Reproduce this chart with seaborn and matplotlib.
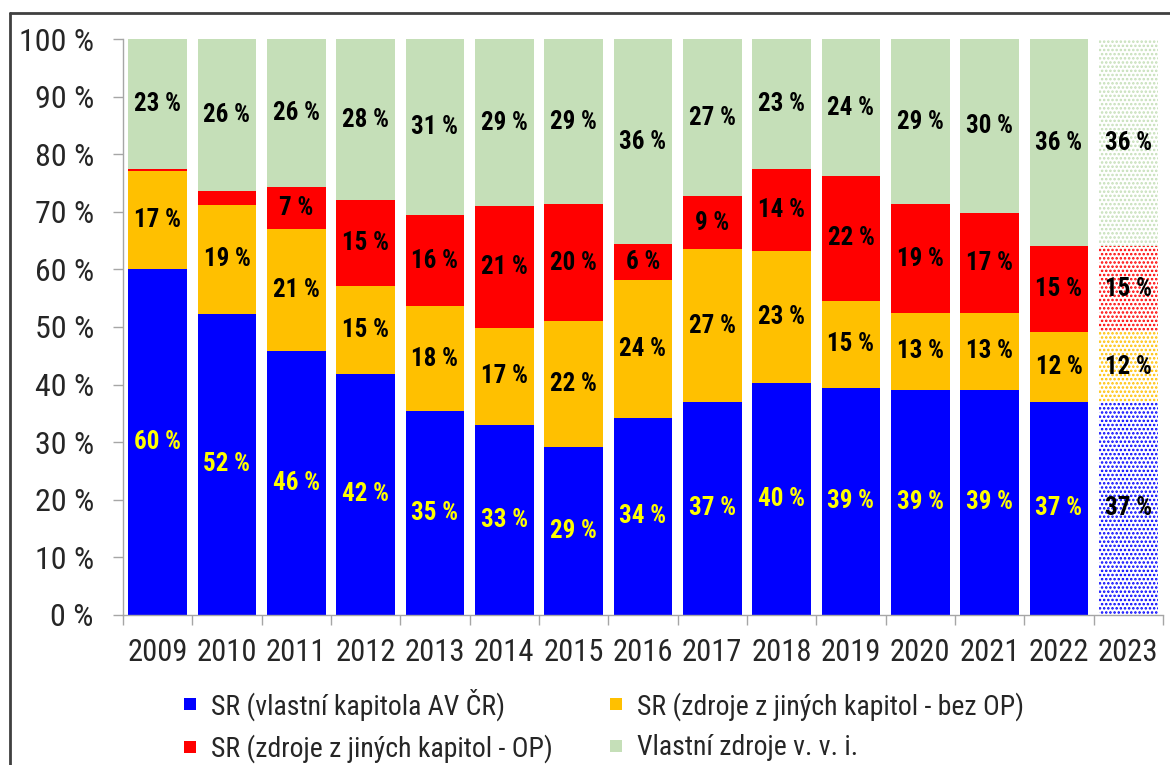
import pandas as pd
import seaborn as sns
import matplotlib.pyplot as plt
from matplotlib.lines import Line2D

# data (podíly v %)
years = ['2009', '2010', '2011', '2012', '2013', '2014', '2015', '2016',
         '2017', '2018', '2019', '2020', '2021', '2022', '2023']
sr_vlastni = [60.0, 52.3, 45.8, 41.9, 35.4, 33.0, 29.2, 34.1, 36.9, 40.3, 39.4, 39.1, 39.1, 37.0, 37.0]
sr_bez_op = [17.1, 18.9, 21.3, 15.3, 18.2, 16.9, 21.8, 24.0, 26.6, 22.9, 15.2, 13.3, 13.3, 12.1, 12.1]
sr_op = [0.3, 2.5, 7.2, 14.8, 15.8, 21.1, 20.4, 6.3, 9.3, 14.2, 21.6, 19.0, 17.4, 15.0, 15.0]
vlastni_zdroje = [22.6, 26.3, 25.7, 28.0, 30.6, 29.0, 28.6, 35.6, 27.2, 22.6, 23.8, 28.6, 30.2, 35.9, 35.9]

series = [
    ('SR (vlastní kapitola AV ČR)', sr_vlastni, '#0000FF'),
    ('SR (zdroje z jiných kapitol - bez OP)', sr_bez_op, '#FFC000'),
    ('SR (zdroje z jiných kapitol - OP)', sr_op, '#FF0000'),
    ('Vlastní zdroje v. v. i.', vlastni_zdroje, '#C5DFB8'),
]

sns.set_style('white')
plt.rcParams['font.family'] = ['Roboto Condensed', 'Liberation Sans', 'DejaVu Sans']
plt.rcParams['hatch.linewidth'] = 1.2

fig = plt.figure(figsize=(11.7, 7.65), dpi=100)
ax = fig.add_axes([0.1051, 0.1967, 0.8889, 0.7517])

bottom = [0.0] * len(years)
for name, vals, col in series:
    df = pd.DataFrame({'rok': years, 'podil': vals})
    sns.barplot(data=df, x='rok', y='podil', order=years, color=col, width=0.845,
                bottom=bottom, linewidth=0, saturation=1, ax=ax)
    cont = ax.containers[-1]
    # 2023 = odhad -> tečkovaná výplň
    p = cont.patches[-1]
    p.set_facecolor('white')
    p.set_edgecolor(col)
    p.set_hatch('....')
    p.set_linewidth(0)
    labels = [f'{v:.0f} %' if v >= 3 else '' for v in vals]
    txts = ax.bar_label(cont, labels=labels, label_type='center', fontsize=18,
                        fontweight='bold', color='#FFFF00' if col == '#0000FF' else 'black')
    txts[-1].set_color('black')
    bottom = [b + v for b, v in zip(bottom, vals)]

ax.set_ylim(0, 100)
ax.set_xlim(-0.5, len(years) - 0.5)
ax.set_yticks(range(0, 101, 10))
ax.set_yticklabels([f'{t} %' for t in range(0, 101, 10)])
ax.set_xticks(range(len(years)))
ax.set_xticklabels(years)
ax.set_xticks([i - 0.5 for i in range(len(years) + 1)], minor=True)
ax.set_xlabel('')
ax.set_ylabel('')

for s in ['top', 'right']:
    ax.spines[s].set_visible(False)
for s in ['left', 'bottom']:
    ax.spines[s].set_color('#A6A6A6')
    ax.spines[s].set_linewidth(1)
ax.tick_params(axis='y', which='major', length=7, width=1, color='#A6A6A6',
               pad=14, labelsize=23, left=True)
ax.tick_params(axis='x', which='major', length=0, pad=17, labelsize=22)
ax.tick_params(axis='x', which='minor', length=7, width=1, color='#A6A6A6', bottom=True)

# legenda po řádcích: modrá, oranžová / červená, zelená
poradi = [0, 2, 1, 3]
handles = [Line2D([], [], marker='s', linestyle='none', markersize=8, color=series[i][2],
                  markeredgewidth=0) for i in poradi]
fig.legend(handles, [series[i][0] for i in poradi], loc='upper left', ncol=2,
           bbox_to_anchor=(0.155, 0.1005), frameon=False, fontsize=20,
           handlelength=0.6, handletextpad=0.45, columnspacing=2.0, labelspacing=0.5,
           borderaxespad=0, borderpad=0)

# rámeček grafu
fig.add_artist(Line2D([10 / 1170, 10 / 1170], [0, 1 - 13 / 765], color='#404040', lw=2))
fig.add_artist(Line2D([10 / 1170, 1], [1 - 13 / 765, 1 - 13 / 765], color='#404040', lw=2))

fig.savefig('out.png', dpi=100)
